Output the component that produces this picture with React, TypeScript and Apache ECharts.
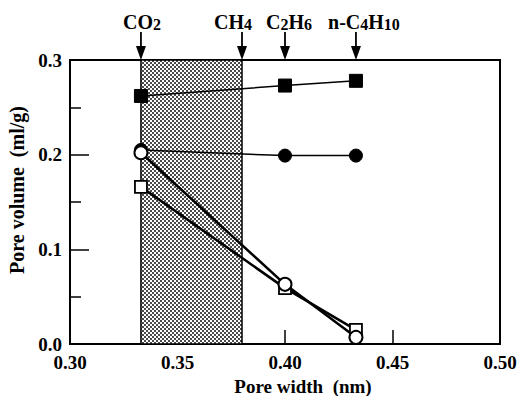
import React, { useEffect, useRef } from "react";
import * as echarts from "echarts";

const filledSquareX = [0.333, 0.4, 0.433];
const filledSquareY = [0.262, 0.273, 0.278];
const filledCircleX = [0.333, 0.4, 0.433];
const filledCircleY = [0.205, 0.199, 0.199];
const openCircleX = [0.333, 0.4, 0.433];
const openCircleY = [0.202, 0.063, 0.007];
const openSquareX = [0.333, 0.4, 0.433];
const openSquareY = [0.166, 0.059, 0.015];

const shadeRange = [0.333, 0.38];

const gasNames = ["CO2", "CH4", "C2H6", "n-C4H10"];
const gasRich = ["CO{s|2}", "CH{s|4}", "C{s|2}H{s|6}", "n-C{s|4}H{s|10}"];
const gasX = [0.333, 0.38, 0.4, 0.433];
const gasLabelShift = [1, -9, 4, 8];

const xTicks = [0.3, 0.35, 0.4, 0.45, 0.5];
const yTicks = [0, 0.1, 0.2, 0.3];

const FONT = "'Liberation Serif', 'DejaVu Serif', serif";

function zip(xs: number[], ys: number[]) {
  return xs.map((x, i) => [x, ys[i]]);
}

export default function App() {
  const ref = useRef<HTMLDivElement>(null);
  useEffect(() => {
    if (!ref.current) return;
    const chart = echarts.init(ref.current, undefined, { renderer: "svg" });

    const cv = document.createElement("canvas");
    cv.width = 4;
    cv.height = 4;
    const ctx = cv.getContext("2d")!;
    ctx.fillStyle = "#ffffff";
    ctx.fillRect(0, 0, 4, 4);
    ctx.fillStyle = "#4a4a4a";
    ctx.fillRect(0, 0, 2, 2);
    ctx.fillRect(2, 2, 2, 2);

    const labelStyle = { color: "#000", fontFamily: FONT, fontWeight: "bold" as const, fontSize: 19 };

    chart.setOption({
      animation: false,
      backgroundColor: "#fff",
      grid: {
        left: 70,
        right: 27,
        top: 60,
        bottom: 52,
        outerBoundsMode: "none",
        containLabel: false,
        show: true,
        borderColor: "#000",
        borderWidth: 2,
        backgroundColor: "transparent",
      },
      xAxis: {
        type: "value",
        min: xTicks[0],
        max: xTicks[xTicks.length - 1],
        interval: 0.05,
        name: "Pore width  (nm)",
        nameLocation: "middle",
        nameGap: 24,
        nameTextStyle: { ...labelStyle, fontSize: 19, padding: [0, 0, 0, 36] },
        axisLine: { lineStyle: { color: "#000", width: 2 } },
        axisTick: { inside: true, length: 14, lineStyle: { color: "#000", width: 1.5 } },
        splitLine: { show: false },
        axisLabel: { ...labelStyle, margin: 9, formatter: (v: number) => v.toFixed(2) },
      },
      yAxis: {
        type: "value",
        min: yTicks[0],
        max: yTicks[yTicks.length - 1],
        interval: 0.1,
        name: "Pore volume  (ml/g)",
        nameLocation: "middle",
        nameGap: 38,
        nameTextStyle: { ...labelStyle, fontSize: 20, padding: [0, 0, 0, 24] },
        axisLine: { lineStyle: { color: "#000", width: 2 } },
        axisTick: { inside: true, length: 19, lineStyle: { color: "#000", width: 1.5 } },
        minorTick: { show: true, splitNumber: 2, length: 11, lineStyle: { color: "#000", width: 1.5 } },
        splitLine: { show: false },
        minorSplitLine: { show: false },
        axisLabel: { ...labelStyle, margin: 8, formatter: (v: number) => v.toFixed(1) },
      },
      series: [
        {
          type: "line",
          name: "shade",
          data: [],
          markArea: {
            silent: true,
            itemStyle: {
              color: { image: cv, repeat: "repeat" },
              borderColor: "#000",
              borderWidth: 1.5,
            },
            data: [[{ xAxis: shadeRange[0] }, { xAxis: shadeRange[1] }]],
          },
        },
        {
          type: "line",
          data: zip(filledSquareX, filledSquareY),
          symbol: "rect",
          symbolSize: 13,
          lineStyle: { color: "#000", width: 1.5 },
          itemStyle: { color: "#000", borderColor: "#000" },
        },
        {
          type: "line",
          data: zip(filledCircleX, filledCircleY),
          symbol: "circle",
          symbolSize: 13,
          lineStyle: { color: "#000", width: 1.5 },
          itemStyle: { color: "#000", borderColor: "#000" },
        },
        {
          type: "line",
          data: zip(openSquareX, openSquareY),
          symbol: "rect",
          symbolSize: 12,
          lineStyle: { color: "#000", width: 2.5 },
          itemStyle: { color: "#fff", borderColor: "#000", borderWidth: 1.8 },
        },
        {
          type: "line",
          data: zip(openCircleX, openCircleY),
          symbol: "circle",
          symbolSize: 13,
          lineStyle: { color: "#000", width: 2.5 },
          itemStyle: { color: "#fff", borderColor: "#000", borderWidth: 2 },
        },
      ],
    });

    const graphics: any[] = [];
    gasX.forEach((gx, i) => {
      const p = chart.convertToPixel({ gridIndex: 0 }, [gx, yTicks[yTicks.length - 1]]) as number[];
      const px = p[0];
      const top = p[1];
      graphics.push({
        type: "line",
        shape: { x1: px, y1: top - 28, x2: px, y2: top - 8 },
        style: { stroke: "#000", lineWidth: 1.8 },
        z: 10,
      });
      graphics.push({
        type: "polygon",
        shape: { points: [[px - 5, top - 14], [px + 5, top - 14], [px, top]] },
        style: { fill: "#000" },
        z: 10,
      });
      graphics.push({
        type: "text",
        x: px + gasLabelShift[i],
        y: top - 38,
        z: 10,
        style: {
          text: gasRich[i],
          align: "center",
          verticalAlign: "middle",
          fill: "#000",
          font: `bold 20px ${FONT}`,
          fontFamily: FONT,
          fontWeight: "bold",
          fontSize: 20,
          rich: {
            s: { fontFamily: FONT, fontWeight: "bold", fontSize: 16, fill: "#000", verticalAlign: "bottom" },
          },
        },
        name: gasNames[i],
      });
    });
    chart.setOption({ graphic: graphics });

    return () => chart.dispose();
  }, []);
  return (
    <div
      ref={ref}
      style={{ position: "fixed", left: 0, top: 0, width: 527, height: 396, background: "#fff" }}
    />
  );
}
